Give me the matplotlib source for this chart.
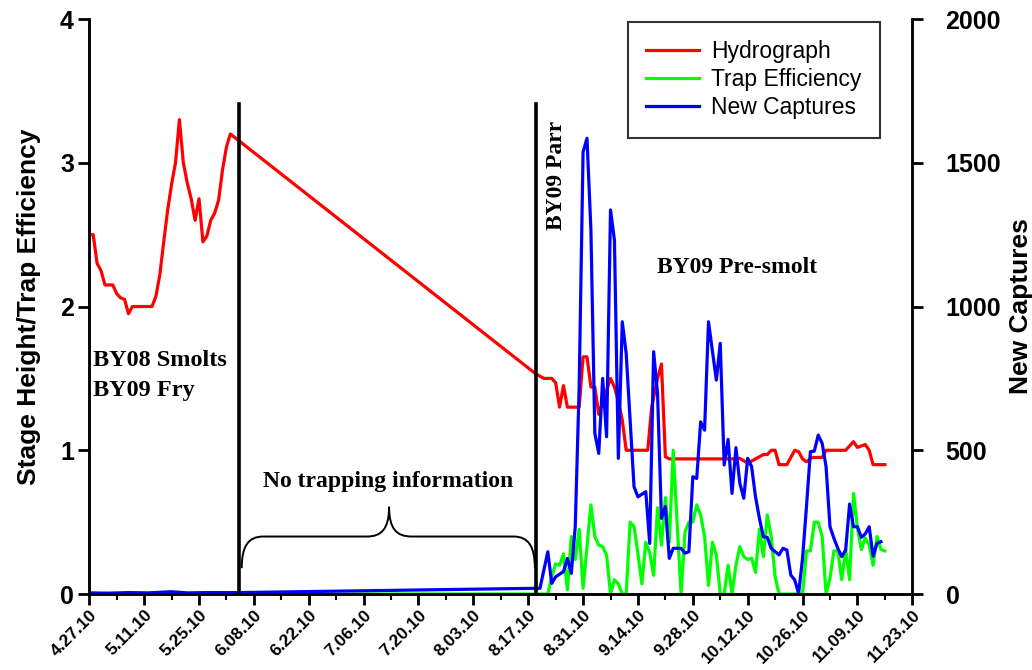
import numpy as np
import matplotlib.pyplot as plt
from matplotlib.path import Path
from matplotlib.patches import PathPatch

plt.rcParams['font.family'] = ['Liberation Sans', 'DejaVu Sans']

# x values are days counted from 4.27.10
tick_labels = ["4.27.10", "5.11.10", "5.25.10", "6.08.10", "6.22.10", "7.06.10", "7.20.10",
               "8.03.10", "8.17.10", "8.31.10", "9.14.10", "9.28.10", "10.12.10", "10.26.10",
               "11.09.10", "11.23.10"]

# Hydrograph (stage height, left axis)
hydro_days = [0, 1, 2, 3, 4, 6, 7, 8, 9, 10, 11, 16, 17, 18, 19, 20, 21, 22, 23, 24, 25,
              26, 27, 28, 29, 30, 31, 32, 33, 34, 35, 36,
              114, 116, 118, 119, 120, 121, 122, 125, 126, 127, 128, 129, 130, 133, 134,
              135, 136, 137, 142.5, 143.5, 145, 146, 147, 148, 164, 166, 168, 170, 171,
              172, 173, 174, 175, 176, 178, 180, 181, 182, 183, 184.5, 187, 188, 193,
              195, 196, 198, 199, 200, 203]
hydro_vals = [2.50, 2.50, 2.30, 2.25, 2.15, 2.15, 2.09, 2.06, 2.05, 1.95, 2.00, 2.00, 2.07,
              2.22, 2.45, 2.67, 2.85, 3.00, 3.30, 3.00, 2.86, 2.75, 2.60, 2.75, 2.45, 2.49,
              2.60, 2.65, 2.74, 2.95, 3.11, 3.20,
              1.53, 1.50, 1.50, 1.47, 1.30, 1.45, 1.30, 1.30, 1.65, 1.65, 1.44, 1.44, 1.25,
              1.50, 1.44, 1.34, 1.21, 1.00, 1.00, 1.30, 1.50, 1.60, 0.955, 0.94, 0.94, 0.944,
              0.91, 0.94, 0.955, 0.97, 0.97, 1.00, 1.00, 0.90, 0.90, 1.00, 0.99, 0.94, 0.92,
              0.95, 0.95, 1.00, 1.00, 1.06, 1.02, 1.04, 1.00, 0.90, 0.90]

# Trap efficiency (left axis)
eff_days = [0, 117, 118, 119, 120, 121, 122, 123, 124, 125, 126, 127, 128, 129, 130, 131,
            132, 133, 134, 135, 136, 137, 138, 139, 140, 141, 142, 143, 144, 145, 146, 147,
            148, 149, 150, 151, 152, 153, 154, 155, 156, 157, 158, 159, 160, 161, 162, 163,
            164, 165, 166, 167, 168, 169, 170, 171, 172, 173, 174, 175, 176, 182, 183, 184,
            185, 186, 187, 188, 189, 190, 191, 192, 193, 194, 195, 196, 197, 198, 199, 200,
            201, 202, 203]
eff_vals = [0, 0, 0.12, 0.21, 0.20, 0.28, 0.03, 0.40, 0.24, 0.45, 0.04, 0.33, 0.62, 0.40,
            0.34, 0.33, 0.27, 0, 0.10, 0.07, 0, 0, 0.50, 0.47, 0.28, 0.07, 0.36, 0.29, 0.13,
            0.60, 0.34, 0.67, 0.36, 1.00, 0.49, 0, 0.43, 0.50, 0.50, 0.62, 0.55, 0.40, 0.06,
            0.36, 0.27, 0, 0, 0.20, 0, 0.20, 0.33, 0.26, 0.24, 0.25, 0.15, 0.45, 0.26, 0.55,
            0.40, 0.12, 0, 0, 0.30, 0.30, 0.50, 0.50, 0.40, 0, 0.11, 0.30, 0.30, 0.10, 0.31,
            0.10, 0.70, 0.46, 0.31, 0.39, 0.34, 0.20, 0.40, 0.31, 0.30]

# New captures (right axis)
cap_days = [0, 5, 10, 15, 21, 25, 30, 38, 114, 115, 117, 118, 119, 121, 122, 123, 124, 125,
            126, 127, 128, 129, 130, 131, 132, 133, 134, 135, 136, 137, 138, 139, 140, 142,
            143, 144, 145, 146, 147, 148, 149, 151, 152, 153, 154, 155, 156, 157, 158, 160,
            161, 162, 163, 164, 165, 166, 167, 168, 169, 170, 171, 172, 173, 174, 176, 177,
            178, 179, 180, 181, 182, 183, 184, 185, 186, 187, 188, 189, 190, 191, 192, 193,
            194, 195, 196, 197, 198, 199, 200, 201, 202]
cap_vals = [4, 3, 5, 4, 8, 4, 5, 5, 20, 20, 147, 37, 60, 78, 124, 72, 234, 721, 1538, 1585,
            1266, 559, 489, 750, 547, 1336, 1231, 472, 947, 837, 605, 373, 338, 356, 176, 843,
            698, 263, 304, 124, 159, 159, 142, 147, 408, 402, 599, 570, 947, 744, 872, 449,
            538, 350, 509, 385, 333, 472, 443, 338, 263, 199, 197, 159, 136, 159, 153, 66, 49,
            2, 124, 304, 495, 497, 553, 524, 443, 234, 194, 159, 130, 153, 313, 234, 234, 197,
            209, 234, 132, 176, 182]

# Gap without trapping (days)
gap_start = 38.3
gap_end = 113.9

fig = plt.figure(figsize=(10.32, 6.70), dpi=100)
ax = fig.add_axes([0.0865, 0.1134, 0.7975, 0.8582])
ax2 = ax.twinx()

l1, = ax.plot(hydro_days, hydro_vals, color='#ff0000', lw=2.3, label='Hydrograph')
l2, = ax.plot(eff_days, eff_vals, color='#00ff00', lw=2.3, label='Trap Efficiency')
l3, = ax2.plot(cap_days, cap_vals, color='#0000ff', lw=2.3, label='New Captures')

ax.set_xlim(0, 210)
ax.set_ylim(0, 4)
ax2.set_ylim(0, 2000)
ax.set_xticks(np.arange(0, 211, 14))
ax.set_xticklabels(tick_labels, rotation=45, ha='right', rotation_mode='anchor',
                   fontsize=12.5, fontweight='bold')
ax.set_xticks(np.arange(7, 211, 14), minor=True)
ax.set_yticks([0, 1, 2, 3, 4])
ax.set_yticklabels(['0', '1', '2', '3', '4'], fontsize=18, fontweight='bold')
ax2.set_yticks([0, 500, 1000, 1500, 2000])
ax2.set_yticklabels(['0', '500', '1000', '1500', '2000'], fontsize=18, fontweight='bold')

ax.tick_params(axis='y', which='major', length=8, width=2, direction='out', pad=3)
ax.tick_params(axis='x', which='major', length=8, width=2, direction='out', pad=1.5)
ax.tick_params(axis='x', which='minor', length=4, width=1.5, direction='out')
ax2.tick_params(axis='y', which='major', length=8, width=2, direction='out', pad=16)

for a in (ax, ax2):
    a.spines['top'].set_visible(False)
    for s in ('left', 'right', 'bottom'):
        a.spines[s].set_linewidth(1.8)

ax.set_ylabel('Stage Height/Trap Efficiency', fontsize=19, fontweight='bold', labelpad=14)
ax2.set_ylabel('New Captures', fontsize=19, fontweight='bold')
ax2.yaxis.set_label_coords(1.117, 0.5)

# separators around the period without trapping
for d in (gap_start, gap_end):
    ax2.plot([d, d], [0, 3.41 * 500], color='black', lw=2.6, zorder=5)

# curly brace under the "no trapping" note
y0, y1, y2 = 0.18, 0.40, 0.607
mid = (gap_start + gap_end) / 2 + 0.4
verts = [(38.9, y0), (38.9, 0.33), (40.5, y1), (44.4, y1),
         (mid - 5.7, y1),
         (mid - 2.0, y1), (mid, 0.45), (mid, y2),
         (mid, 0.45), (mid + 2.0, y1), (mid + 5.8, y1),
         (108.2, y1),
         (112.1, y1), (113.7, 0.33), (113.7, y0)]
codes = [Path.MOVETO, Path.CURVE4, Path.CURVE4, Path.CURVE4,
         Path.LINETO,
         Path.CURVE4, Path.CURVE4, Path.CURVE4,
         Path.CURVE4, Path.CURVE4, Path.CURVE4,
         Path.LINETO,
         Path.CURVE4, Path.CURVE4, Path.CURVE4]
ax.add_patch(PathPatch(Path(verts, codes), facecolor='none', edgecolor='black', lw=1.4))

serif = dict(family=['Liberation Serif', 'DejaVu Serif'], fontweight='bold', fontsize=17)
ax.text(1.0, 1.52, 'BY08 Smolts\nBY09 Fry', ha='left', va='center', linespacing=1.55,
        **dict(serif, fontsize=17.5))
ax.text(76.2, 0.78, 'No trapping information', ha='center', va='center', **serif)
ax.text(119.1, 2.91, 'BY09 Parr', ha='center', va='center', rotation=90, **serif)
ax.text(165.3, 2.27, 'BY09 Pre-smolt', ha='center', va='center', **serif)

leg = ax2.legend(handles=[l1, l2, l3], loc='upper right', bbox_to_anchor=(0.961, 0.995),
                 borderaxespad=0, fancybox=False, edgecolor='black', fontsize=16.5,
                 handlelength=2.3, handletextpad=0.55, labelspacing=0.22, borderpad=0.8)
leg.get_frame().set_linewidth(1.5)

fig.savefig('out.png', dpi=100)
